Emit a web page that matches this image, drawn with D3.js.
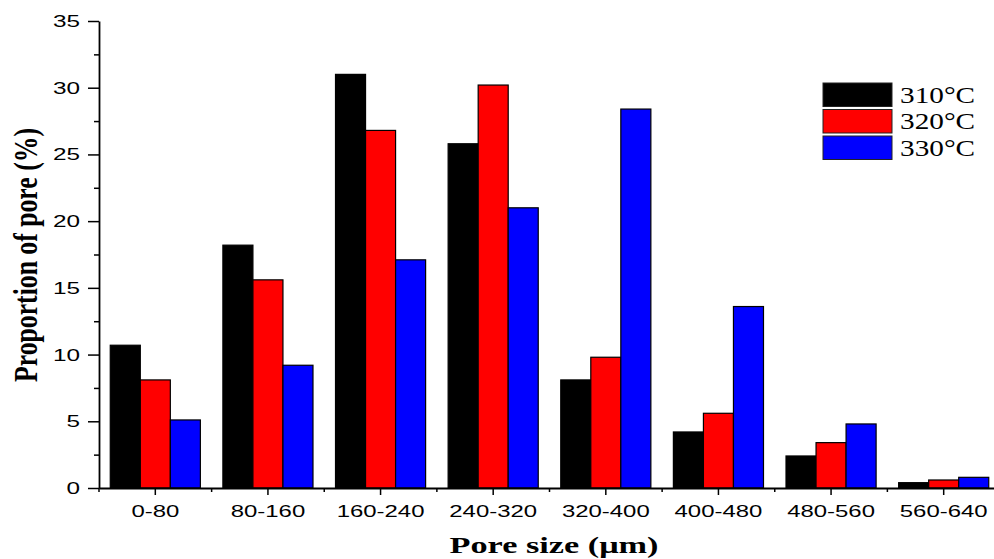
<!DOCTYPE html>
<html>
<head>
<meta charset="utf-8">
<script src="https://cdn.jsdelivr.net/npm/d3@7"></script>
<style>
    body { margin: 0; background: #fff; }
</style>
</head>
<body>
<div id="bars"></div>
<script>
// values (%)
var categories = ["0-80", "80-160", "160-240", "240-320", "320-400", "400-480", "480-560", "560-640"]
var seriesNames = ["310°C", "320°C", "330°C"]
var seriesColors = ["#000000", "#ff0000", "#0000ff"]
var v310 = [10.7, 18.2, 31.0, 25.8, 8.1, 4.2, 2.4, 0.4]
var v320 = [8.1, 15.6, 26.8, 30.2, 9.8, 5.6, 3.4, 0.6]
var v330 = [5.1, 9.2, 17.1, 21.0, 28.4, 13.6, 4.8, 0.8]
var yTicks = [0, 5, 10, 15, 20, 25, 30, 35]

var data = categories.map(function (c, i) {
    return { cat: c, values: [v310[i], v320[i], v330[i]] }
})

var dimensions = {
    width: 994,
    height: 559,
    left: 99,
    right: 1000,
    top: 21,
    bottom: 488
}

var svg = d3.select("#bars")
    .append("svg")
    .attr("width", dimensions.width)
    .attr("height", dimensions.height)

// the picture is stretched sideways, so text is widened
function stretch(sel, k) {
    sel.each(function () {
        var w = this.getComputedTextLength()
        d3.select(this).attr("textLength", w * k).attr("lengthAdjust", "spacingAndGlyphs")
    })
}

var x = d3.scaleBand()
    .domain(categories)
    .range([dimensions.left, dimensions.right])
    .paddingInner(0.2)
    .paddingOuter(0.1)

var xSub = d3.scaleBand()
    .domain(d3.range(seriesNames.length))
    .range([0, x.bandwidth()])

var y = d3.scaleLinear()
    .domain([0, 35])
    .range([dimensions.bottom, dimensions.top])

// bars
svg.append("g")
    .selectAll("g")
    .data(data)
    .enter()
    .append("g")
    .attr("transform", function (d) { return "translate(" + x(d.cat) + ",0)" })
    .selectAll("rect")
    .data(function (d) { return d.values.map(function (v, k) { return { k: k, v: v } }) })
    .enter().append("rect")
    .attr("x", function (d) { return xSub(d.k) })
    .attr("y", function (d) { return y(d.v) })
    .attr("width", xSub.bandwidth())
    .attr("height", function (d) { return y(0) - y(d.v) })
    .attr("fill", function (d) { return seriesColors[d.k] })
    .attr("stroke", "#000")
    .attr("stroke-width", 1.2)

// Y axis
var yAxis = svg.append("g")
    .attr("transform", "translate(" + dimensions.left + ",0)")
    .call(d3.axisLeft(y).tickValues(yTicks).tickSize(11).tickSizeOuter(0).tickPadding(8))
yAxis.select(".domain").attr("stroke-width", 1.8)
yAxis.selectAll(".tick line").attr("stroke-width", 1.5)
yAxis.selectAll("text")
    .style("font-family", "'Liberation Sans', Arial, sans-serif")
    .style("font-size", "17px")
    .attr("fill", "#000")
    .call(stretch, 1.43)

// minor y ticks
svg.append("g")
    .attr("transform", "translate(" + dimensions.left + ",0)")
    .call(d3.axisLeft(y).tickValues(yTicks.slice(0, -1).map(function (t) { return t + 2.5 })).tickSize(5).tickFormat(""))
    .call(function (g) { g.select(".domain").remove() })
    .selectAll("line").attr("stroke-width", 1.5)

// X axis
var xAxis = svg.append("g")
    .attr("transform", "translate(0," + dimensions.bottom + ")")
    .call(d3.axisBottom(x).tickSize(7).tickSizeOuter(0).tickPadding(10))
xAxis.select(".domain").attr("stroke-width", 1.8)
xAxis.selectAll(".tick line").attr("stroke-width", 1.5)
xAxis.selectAll("text")
    .style("font-family", "'Liberation Sans', Arial, sans-serif")
    .style("font-size", "16.5px")
    .attr("fill", "#000")
    .call(stretch, 1.45)

// minor x ticks on group boundaries
svg.append("g")
    .selectAll("line")
    .data(categories)
    .enter().append("line")
    .attr("x1", function (d) { return x(d) - x.paddingOuter() * x.step() })
    .attr("x2", function (d) { return x(d) - x.paddingOuter() * x.step() })
    .attr("y1", dimensions.bottom)
    .attr("y2", dimensions.bottom + 4)
    .attr("stroke", "#000")
    .attr("stroke-width", 1.5)

// axis titles
svg.append("text")
    .attr("x", 554)
    .attr("y", 553)
    .attr("text-anchor", "middle")
    .style("font-family", "'Liberation Serif', 'Times New Roman', serif")
    .style("font-weight", "bold")
    .style("font-size", "24px")
    .text("Pore size (μm)")
    .attr("textLength", 209)
    .attr("lengthAdjust", "spacingAndGlyphs")

svg.append("text")
    .attr("transform", "translate(37,255) rotate(-90)")
    .attr("text-anchor", "middle")
    .style("font-family", "'Liberation Serif', 'Times New Roman', serif")
    .style("font-weight", "bold")
    .style("font-size", "33px")
    .text("Proportion of pore (%)")
    .attr("textLength", 254)
    .attr("lengthAdjust", "spacingAndGlyphs")

// legend
var legend = svg.append("g")
    .attr("transform", "translate(823,83)")
    .selectAll("g")
    .data(seriesNames)
    .enter().append("g")
    .attr("transform", function (d, i) { return "translate(0," + i * 26.5 + ")" })

legend.append("rect")
    .attr("width", 69)
    .attr("height", 23.5)
    .attr("fill", function (d, i) { return seriesColors[i] })
    .attr("stroke", "#222")
    .attr("stroke-width", 1)

legend.append("text")
    .attr("x", 77)
    .attr("y", 19.5)
    .style("font-family", "'Liberation Serif', 'Times New Roman', serif")
    .style("font-size", "22.5px")
    .text(function (d) { return d })
    .call(stretch, 1.3)
</script>
</body>
</html>
